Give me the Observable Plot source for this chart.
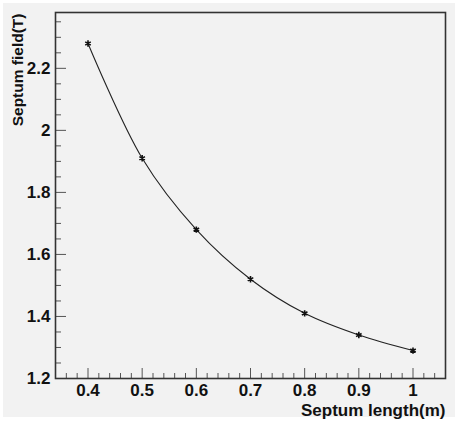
<!DOCTYPE html>
<html>
<head>
<meta charset="utf-8">
<script src="https://cdn.jsdelivr.net/npm/d3@7"></script>
<script src="https://cdn.jsdelivr.net/npm/@observablehq/plot@0.6"></script>
<style>
  html, body { margin: 0; padding: 0; background: #ffffff; }
  #wrap { position: relative; width: 458px; height: 424px; }
  #bg { position: absolute; left: 3px; top: 3px; width: 452px; height: 414px; background: #f2f2f2; }
  #chart { position: absolute; left: 0; top: 0; }
</style>
</head>
<body>
<div id="wrap"><div id="bg"></div><div id="chart"></div></div>
<script>
// Data
const lengths = [0.4, 0.5, 0.6, 0.7, 0.8, 0.9, 1.0];
const fields  = [2.28, 1.91, 1.68, 1.52, 1.41, 1.34, 1.29];

// Axis ticks and labels
const xMajor = [0.4, 0.5, 0.6, 0.7, 0.8, 0.9, 1.0];
const xTickLabels = ["0.4", "0.5", "0.6", "0.7", "0.8", "0.9", "1"];
const xMinor = [0.34, 0.36, 0.38, 0.42, 0.44, 0.46, 0.48, 0.52, 0.54, 0.56, 0.58,
  0.62, 0.64, 0.66, 0.68, 0.72, 0.74, 0.76, 0.78, 0.82, 0.84, 0.86, 0.88,
  0.92, 0.94, 0.96, 0.98, 1.02, 1.04];
const yMajor = [1.2, 1.4, 1.6, 1.8, 2.0, 2.2];
const yTickLabels = ["1.2", "1.4", "1.6", "1.8", "2", "2.2"];
const yMinor = [1.25, 1.3, 1.35, 1.45, 1.5, 1.55, 1.65, 1.7, 1.75, 1.85, 1.9, 1.95,
  2.05, 2.1, 2.15, 2.25, 2.3, 2.35];
const xTitle = "Septum length(m)";
const yTitle = "Septum field(T)";

const data = lengths.map((x, i) => ({x, y: fields[i]}));

const W = 458, H = 424;
const mL = 55, mR = 13, mT = 12, mB = 46;
const innerW = W - mL - mR, innerH = H - mT - mB;
const font = "'Liberation Sans', Arial, Helvetica, sans-serif";

const chart = Plot.plot({
  width: W, height: H,
  marginLeft: mL, marginRight: mR, marginTop: mT, marginBottom: mB,
  style: {background: "transparent", fontFamily: font, fontWeight: "bold", fontSize: "16px", color: "#111", overflow: "visible"},
  x: {domain: [0.34, 1.06]},
  y: {domain: [1.2, 2.38]},
  marks: [
    Plot.tickX(xMinor, {x: d => d, stroke: "#555", strokeWidth: 1, insetTop: innerH - 5}),
    Plot.tickX(xMajor, {x: d => d, stroke: "#555", strokeWidth: 1, insetTop: innerH - 10}),
    Plot.tickY(yMinor, {y: d => d, stroke: "#555", strokeWidth: 1, insetRight: innerW - 6}),
    Plot.tickY(yMajor, {y: d => d, stroke: "#555", strokeWidth: 1, insetRight: innerW - 11}),
    Plot.axisX(xMajor, {tickSize: 0, tickPadding: 5, fontSize: 17, fontWeight: "bold", label: null,
      tickFormat: d => xTickLabels[xMajor.indexOf(d)]}),
    Plot.axisY(yMajor, {tickSize: 0, tickPadding: 5, fontSize: 17, fontWeight: "bold", label: null,
      tickFormat: d => yTickLabels[yMajor.indexOf(d)]}),
    Plot.frame({stroke: "#333", strokeWidth: 1.6}),
    Plot.line(data, {x: "x", y: "y", curve: "catmull-rom", stroke: "#222", strokeWidth: 1.1}),
    Plot.dot(data, {x: "x", y: "y", symbol: "asterisk", r: 3, stroke: "#111", strokeWidth: 1.6}),
    Plot.text([xTitle], {frameAnchor: "bottom-right", text: d => d, textAnchor: "end", lineAnchor: "middle",
      dy: 32, fontSize: 17, fontWeight: "bold", fill: "#111"}),
    Plot.text([yTitle], {frameAnchor: "top-left", text: d => d, textAnchor: "end", lineAnchor: "middle",
      rotate: -90, dx: -37, dy: 1, fontSize: 15.5, fontWeight: "bold", fill: "#111"})
  ]
});
document.getElementById("chart").appendChild(chart);
</script>
</body>
</html>
